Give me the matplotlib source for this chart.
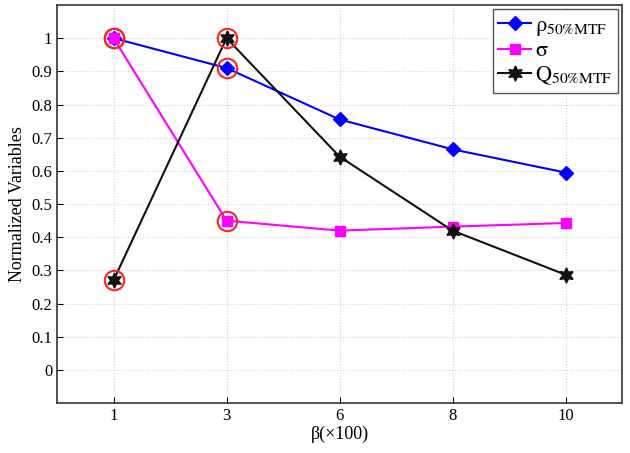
import matplotlib
matplotlib.use("Agg")
import matplotlib.pyplot as plt

categories = ["1", "3", "6", "8", "10"]
rho = [1.0, 0.91, 0.755, 0.665, 0.595]
sigma = [1.0, 0.45, 0.42, 0.432, 0.443]
Q = [0.27, 1.0, 0.643, 0.42, 0.287]
highlight_idx = [0, 1]

plt.rcParams['font.family'] = ['Liberation Serif', 'DejaVu Serif']
plt.rcParams['mathtext.fontset'] = 'stix'

fig = plt.figure(figsize=(6.3, 4.53), dpi=100)
ax = fig.add_axes([0.0905, 0.110, 0.897, 0.879])
x = list(range(1, len(categories) + 1))

ax.plot(x, rho, color='#0000ff', marker='D', markersize=7, lw=1.5,
        label=r'$\mathrm{\rho_{50\%MTF}}$', zorder=3)
ax.plot(x, sigma, color='#ff00ff', marker='s', markersize=6.5, lw=1.5,
        label=r'$\mathrm{\sigma}$', zorder=3)
ax.plot(x, Q, color='#111111', marker=(6, 1, 0), markersize=11, lw=1.5,
        label=r'$\mathrm{Q_{50\%MTF}}$', zorder=3)

for i in highlight_idx:
    for s in (rho, sigma, Q):
        ax.plot(x[i], s[i], marker='o', markersize=14, markerfacecolor='none',
                markeredgecolor='#ff2020', markeredgewidth=1.5, zorder=4)

ax.set_xlim(0.5, len(categories) + 0.5)
ax.set_ylim(-0.1, 1.1)
ax.set_xticks(x)
ax.set_xticklabels(categories)
ax.set_yticks([i / 10 for i in range(0, 11)])
ax.set_yticklabels(["0", "0.1", "0.2", "0.3", "0.4", "0.5", "0.6", "0.7", "0.8", "0.9", "1"])
ax.tick_params(labelsize=12, direction='in', length=4)
ax.grid(True, linestyle=':', color='#d0d0d0', lw=0.8)
ax.set_xlabel('β(×100)', fontsize=13, labelpad=1)
ax.set_ylabel('Normalized Variables', fontsize=13)
for sp in ax.spines.values():
    sp.set_linewidth(1.2)
    sp.set_color('#333333')

leg = ax.legend(loc='upper right', fontsize=16, fancybox=False, framealpha=1,
                edgecolor='#555555', handlelength=1.5, handletextpad=0.15,
                borderpad=0.25, labelspacing=0.15, borderaxespad=0.2)

fig.savefig('out.png', dpi=100)
